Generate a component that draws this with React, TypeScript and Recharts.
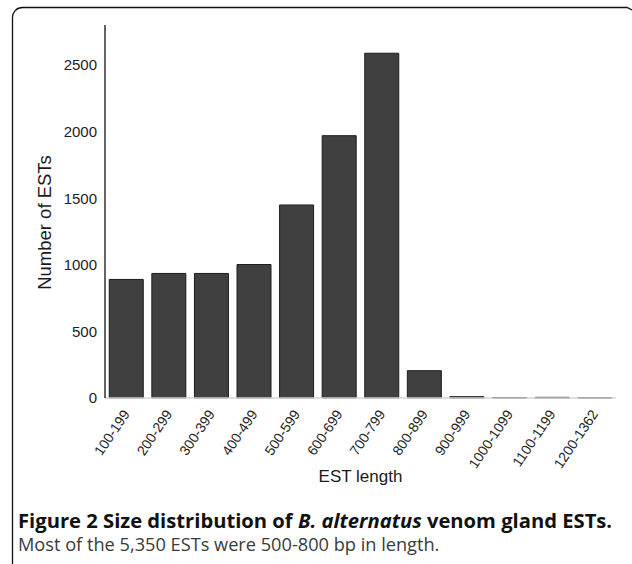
import React from "react";
import { BarChart, Bar, XAxis, YAxis, Label } from "recharts";

const categories = [
  "100-199",
  "200-299",
  "300-399",
  "400-499",
  "500-599",
  "600-699",
  "700-799",
  "800-899",
  "900-999",
  "1000-1099",
  "1100-1199",
  "1200-1362",
];
const counts = [890, 935, 935, 1002, 1449, 1969, 2588, 205, 10, 3, 5, 2];
const yTicks = [0, 500, 1000, 1500, 2000, 2500];

const data = categories.map((name, i) => ({ name, count: counts[i] }));

const FONT = "'Liberation Sans', Arial, sans-serif";
const CAPTION_FONT = "'Open Sans', 'Noto Sans', sans-serif";

const AngledTick = (props: any) => {
  const { x, y, payload } = props;
  const ax = x + 4;
  const ay = y + 8;
  return (
    <text
      x={ax}
      y={ay}
      transform={`rotate(-56, ${ax}, ${ay})`}
      textAnchor="end"
      fontSize={14}
      fill="#222"
      fontFamily={FONT}
    >
      {payload.value}
    </text>
  );
};

const App = () => {
  return (
    <div
      style={{
        position: "absolute",
        left: 0,
        top: 0,
        width: 632,
        height: 564,
        background: "#fff",
        overflow: "hidden",
      }}
    >
      <svg
        width={632}
        height={564}
        style={{ position: "absolute", left: 0, top: 0 }}
      >
        <path
          d="M12.5,564 V18 A10,10 0 0 1 22.5,7.5 H627 L632,10"
          fill="none"
          stroke="#111"
          strokeWidth={1.3}
        />
      </svg>

      <div style={{ position: "absolute", left: 0, top: 0 }}>
        <BarChart
          width={632}
          height={500}
          data={data}
          margin={{ top: 25, right: 16, left: 0, bottom: 20 }}
          barCategoryGap="10%"
        >
          <XAxis
            dataKey="name"
            interval={0}
            tickLine={false}
            axisLine={{ stroke: "#d4d4d4", strokeWidth: 1.5 }}
            tick={<AngledTick />}
            height={82}
          >
            <Label
              content={({ viewBox }: any) => (
                <text
                  x={viewBox.x + viewBox.width / 2}
                  y={viewBox.y + 84}
                  textAnchor="middle"
                  fontSize={17}
                  fill="#1a1a1a"
                  fontFamily={FONT}
                >
                  EST length
                </text>
              )}
            />
          </XAxis>
          <YAxis
            width={105}
            domain={[0, 2800]}
            ticks={yTicks}
            tickLine={false}
            axisLine={{ stroke: "#111", strokeWidth: 1.3 }}
            tick={{ fontSize: 15, fill: "#222", fontFamily: FONT }}
          >
            <Label
              content={({ viewBox }: any) => {
                const cx = 44;
                const cy = viewBox.y + viewBox.height / 2 + 11;
                return (
                  <text
                    x={cx}
                    y={cy}
                    transform={`rotate(-90, ${cx}, ${cy})`}
                    textAnchor="middle"
                    dominantBaseline="central"
                    fontSize={18.5}
                    fill="#1a1a1a"
                    fontFamily={FONT}
                  >
                    Number of ESTs
                  </text>
                );
              }}
            />
          </YAxis>
          <Bar
            dataKey="count"
            fill="#404040"
            stroke="#1c1c1c"
            strokeWidth={1}
            isAnimationActive={false}
          />
        </BarChart>
      </div>

      <div
        style={{
          position: "absolute",
          left: 18,
          top: 506,
          fontFamily: CAPTION_FONT,
          whiteSpace: "nowrap",
        }}
      >
        <div
          style={{
            fontSize: 20.2,
            lineHeight: "28px",
            fontWeight: 700,
            color: "#111",
          }}
        >
          Figure 2 Size distribution of <i>B. alternatus</i> venom gland ESTs.
        </div>
        <div
          style={{
            fontSize: 18.2,
            lineHeight: "24px",
            color: "#3a3a3a",
            marginTop: -2,
          }}
        >
          Most of the 5,350 ESTs were 500-800 bp in length.
        </div>
      </div>
    </div>
  );
};

export default App;
